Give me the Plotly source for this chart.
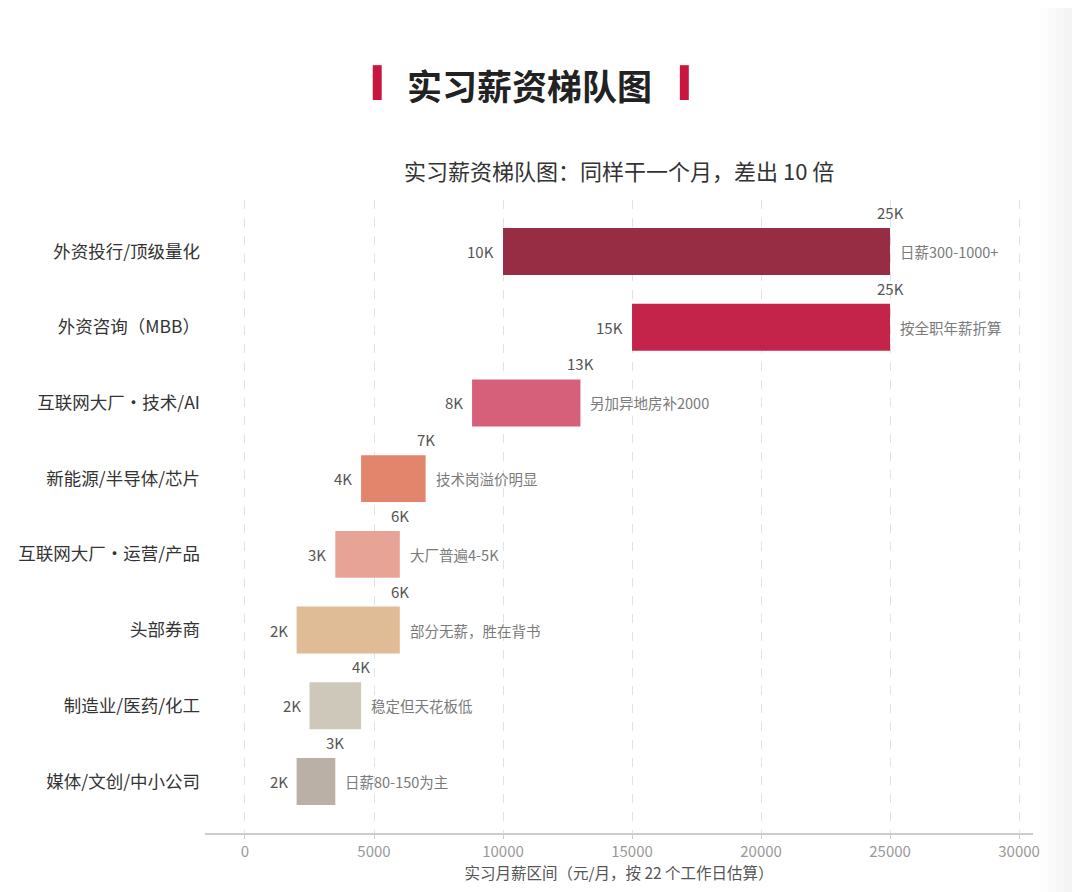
import plotly.graph_objects as go

# Data
categories = ["外资投行/顶级量化", "外资咨询（MBB）", "互联网大厂・技术/AI", "新能源/半导体/芯片",
              "互联网大厂・运营/产品", "头部券商", "制造业/医药/化工", "媒体/文创/中小公司"]
low = [10000, 15000, 8800, 4500, 3500, 2000, 2500, 2000]
high = [25000, 25000, 13000, 7000, 6000, 6000, 4500, 3500]
notes = ["日薪300-1000+", "按全职年薪折算", "另加异地房补2000", "技术岗溢价明显",
         "大厂普遍4-5K", "部分无薪，胜在背书", "稳定但天花板低", "日薪80-150为主"]
colors = ["#962D45", "#C4234A", "#D6607A", "#E3846D", "#E8A397", "#DFBC96", "#CEC8BB", "#BAB0A5"]
x_ticks = [0, 5000, 10000, 15000, 20000, 25000, 30000]
x_tick_text = ["0", "5000", "10000", "15000", "20000", "25000", "30000"]

FONT = "Noto Sans CJK SC"

fig = go.Figure()

fig.add_trace(go.Bar(
    y=categories,
    x=[h - l for l, h in zip(low, high)],
    base=low,
    orientation="h",
    marker=dict(color=colors, line=dict(width=0)),
    width=0.62,
    hoverinfo="skip",
))

# value labels and notes
for cat, l, h, note in zip(categories, low, high, notes):
    fig.add_annotation(x=l, y=cat, text=f"{int(l / 1000)}K", showarrow=False,
                       xanchor="right", xshift=-7, font=dict(size=15, color="#555555", family=FONT))
    fig.add_annotation(x=h, y=cat, text=f"{int(h / 1000)}K", showarrow=False,
                       xanchor="center", yshift=39, font=dict(size=15, color="#555555", family=FONT))
    fig.add_annotation(x=h, y=cat, text=note, showarrow=False,
                       xanchor="left", xshift=8, font=dict(size=14.5, color="#7a7a7a", family=FONT))

# main heading with red bars
fig.add_annotation(xref="paper", yref="paper", x=0.3925, y=1.1817, xanchor="center", yanchor="middle",
                   text="<b>实习薪资梯队图</b>", showarrow=False,
                   font=dict(size=35, color="#222222", family=FONT))
for x0 in [0.2026, 0.5735]:
    fig.add_shape(type="rect", xref="paper", yref="paper", x0=x0, x1=x0 + 0.0108,
                  y0=1.158, y1=1.213, fillcolor="#C8163F", line=dict(width=0))

# subtitle
fig.add_annotation(xref="paper", yref="paper", x=0.5, y=1.0475, xanchor="center", yanchor="middle",
                   text="实习薪资梯队图：同样干一个月，差出 10 倍", showarrow=False,
                   font=dict(size=22, color="#333333", family=FONT))

# faint shading at the right edge
for i, c in enumerate(["#fdfdfd", "#fafafa", "#f7f7f7", "#f4f4f4", "#f1f1f1"]):
    fig.add_shape(type="rect", xref="paper", yref="paper", x0=(1040 + i * 8 - 205) / 828, x1=(1090 - 205) / 828,
                  y0=-0.1, y1=1.32, fillcolor=c, line=dict(width=0), layer="below")

fig.update_layout(
    width=1072, height=884,
    margin=dict(l=197, r=47, t=192, b=59, autoexpand=False),
    paper_bgcolor="white", plot_bgcolor="white",
    showlegend=False,
    font=dict(family=FONT),
)

fig.update_xaxes(
    range=[-1550, 30540],
    tickvals=x_ticks, ticktext=x_tick_text,
    tickfont=dict(size=15, color="#999999", family=FONT),
    showgrid=True, gridcolor="#e2e2e2", griddash="dash", gridwidth=1,
    zeroline=False,
    showline=True, linecolor="#cccccc", linewidth=2,
    ticks="outside", ticklen=4, tickcolor="#cccccc",
    automargin=False,
    title=dict(text="实习月薪区间（元/月，按 22 个工作日估算）",
               font=dict(size=15.5, color="#555555", family=FONT), standoff=2),
)

fig.update_yaxes(
    categoryorder="array", categoryarray=categories,
    range=[7.68, -0.68],
    tickfont=dict(size=17.5, color="#333333", family=FONT),
    showgrid=False, zeroline=False, showline=False,
    ticks="", ticklabelstandoff=4,
    automargin=False,
)

fig.write_html("out.html")
